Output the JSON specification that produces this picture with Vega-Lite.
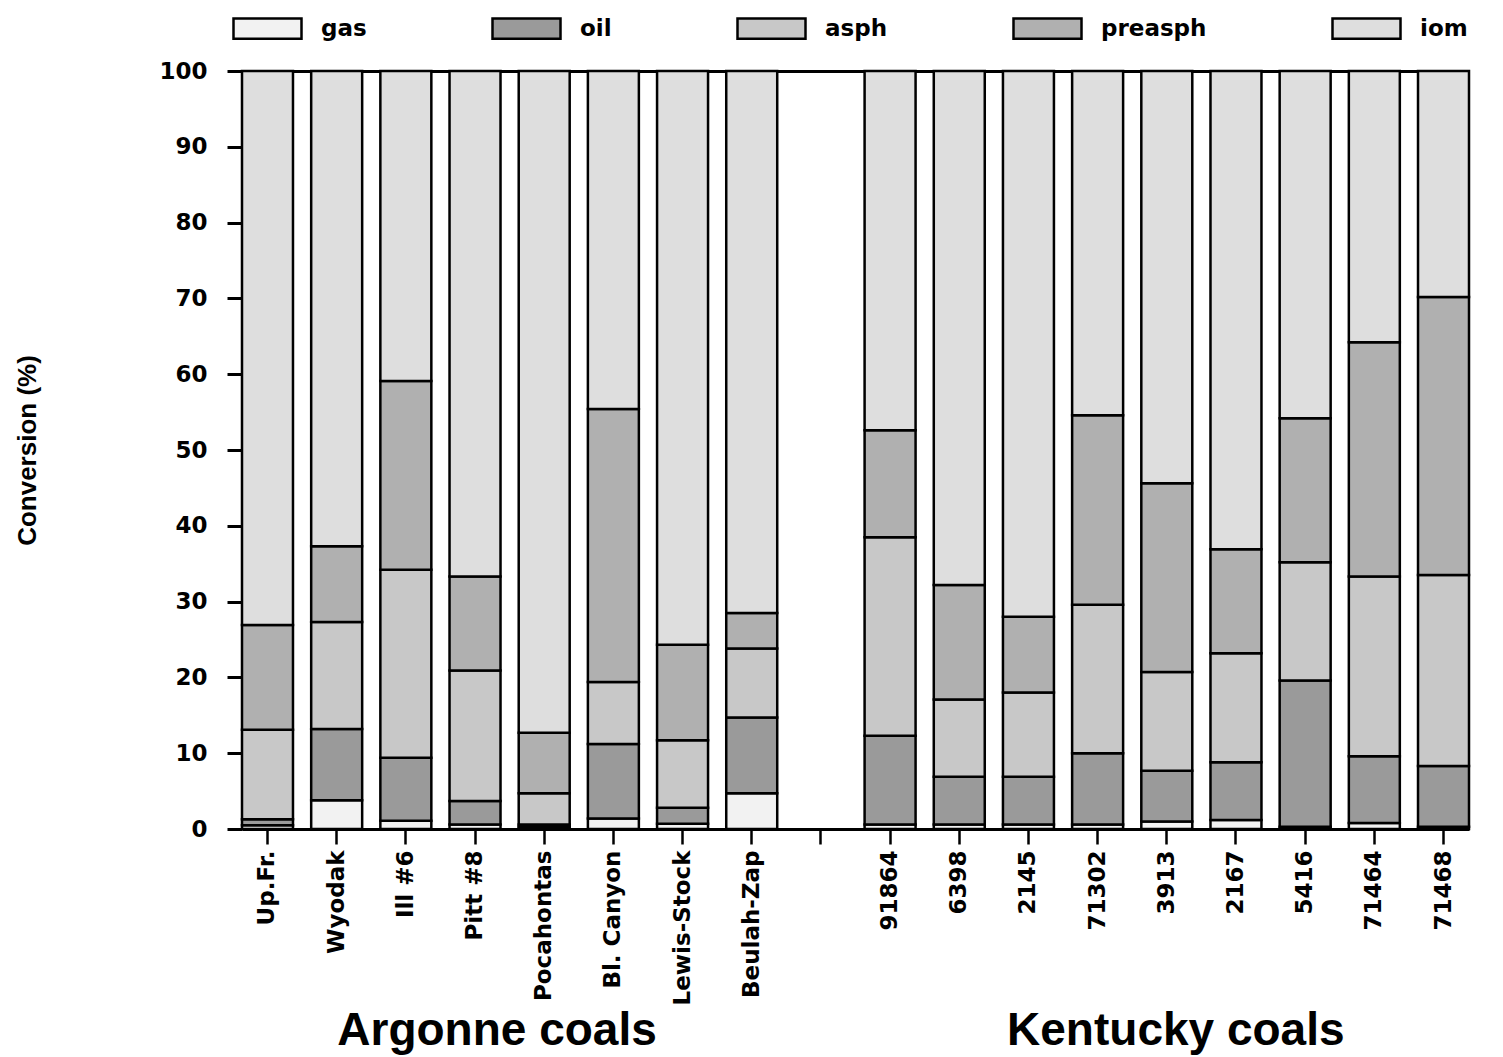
{
  "$schema": "https://vega.github.io/schema/vega-lite/v6.json",
  "width": 1227,
  "height": 758,
  "autosize": {"type": "none"},
  "padding": {"left": 242, "top": 71, "right": 34, "bottom": 228},
  "background": "white",
  "config": {"view": {"stroke": null}, "font": "DejaVu Sans"},
  "resolve": {"axis": {"x": "independent", "y": "independent"}},
  "layer": [
    {
      "data": {
        "values": [
          {"coal": "Up.Fr.", "gas": 0.5, "oil": 0.8, "asph": 11.8, "preasph": 13.8, "iom": 73.1},
          {"coal": "Wyodak", "gas": 3.8, "oil": 9.4, "asph": 14.1, "preasph": 10.0, "iom": 62.7},
          {"coal": "Ill #6", "gas": 1.1, "oil": 8.3, "asph": 24.8, "preasph": 24.9, "iom": 40.9},
          {"coal": "Pitt #8", "gas": 0.6, "oil": 3.1, "asph": 17.2, "preasph": 12.4, "iom": 66.7},
          {"coal": "Pocahontas", "gas": 0.3, "oil": 0.3, "asph": 4.1, "preasph": 8.0, "iom": 87.3},
          {"coal": "Bl. Canyon", "gas": 1.4, "oil": 9.8, "asph": 8.2, "preasph": 36.0, "iom": 44.6},
          {"coal": "Lewis-Stock", "gas": 0.7, "oil": 2.1, "asph": 8.9, "preasph": 12.6, "iom": 75.7},
          {"coal": "Beulah-Zap", "gas": 4.7, "oil": 10.0, "asph": 9.1, "preasph": 4.7, "iom": 71.5},
          {"coal": "91864", "gas": 0.6, "oil": 11.7, "asph": 26.2, "preasph": 14.1, "iom": 47.4},
          {"coal": "6398", "gas": 0.6, "oil": 6.3, "asph": 10.2, "preasph": 15.1, "iom": 67.8},
          {"coal": "2145", "gas": 0.6, "oil": 6.3, "asph": 11.1, "preasph": 10.0, "iom": 72.0},
          {"coal": "71302", "gas": 0.6, "oil": 9.4, "asph": 19.6, "preasph": 25.0, "iom": 45.4},
          {"coal": "3913", "gas": 1.0, "oil": 6.7, "asph": 13.0, "preasph": 24.9, "iom": 54.4},
          {"coal": "2167", "gas": 1.2, "oil": 7.6, "asph": 14.4, "preasph": 13.7, "iom": 63.1},
          {"coal": "5416", "gas": 0.3, "oil": 19.3, "asph": 15.6, "preasph": 19.0, "iom": 45.8},
          {"coal": "71464", "gas": 0.8, "oil": 8.8, "asph": 23.7, "preasph": 30.9, "iom": 35.8},
          {"coal": "71468", "gas": 0.3, "oil": 8.0, "asph": 25.2, "preasph": 36.7, "iom": 29.8}
        ]
      },
      "transform": [
        {"fold": ["gas", "oil", "asph", "preasph", "iom"], "as": ["component", "value"]},
        {"calculate": "indexof(['gas','oil','asph','preasph','iom'], datum.component)", "as": "stackOrder"}
      ],
      "mark": {"type": "bar", "stroke": "black", "strokeWidth": 2.5, "strokeJoin": "miter"},
      "encoding": {
        "x": {
          "field": "coal", "type": "nominal", "sort": null,
          "scale": {
            "domain": ["Up.Fr.", "Wyodak", "Ill #6", "Pitt #8", "Pocahontas", "Bl. Canyon", "Lewis-Stock", "Beulah-Zap", "gap", "91864", "6398", "2145", "71302", "3913", "2167", "5416", "71464", "71468"],
            "paddingInner": 0.263, "paddingOuter": 0
          },
          "axis": {
            "title": null, "labelAngle": -90, "labelFont": "DejaVu Sans", "labelFontWeight": "bold",
            "labelFontSize": 23, "labelColor": "black", "labelPadding": 6, "labelLimit": 300,
            "labelExpr": "datum.value == 'gap' ? '' : datum.value",
            "tickSize": 15, "tickWidth": 2.5, "tickColor": "black",
            "domainColor": "black", "domainWidth": 3
          }
        },
        "y": {
          "field": "value", "type": "quantitative", "stack": "zero",
          "scale": {"domain": [0, 100], "nice": false},
          "axis": {
            "title": "Conversion (%)", "values": [0, 10, 20, 30, 40, 50, 60, 70, 80, 90, 100],
            "grid": false, "tickSize": 15, "tickWidth": 3, "tickColor": "black",
            "domain": true, "domainColor": "black", "domainWidth": 2,
            "labelFont": "DejaVu Sans", "labelFontWeight": "bold", "labelFontSize": 23,
            "labelColor": "black", "labelPadding": 20,
            "titleFont": "Liberation Sans", "titleFontWeight": "bold", "titleFontSize": 26,
            "titleColor": "black", "titleX": -215, "titleY": 379, "titleAngle": -90,
            "titleAlign": "center", "titleBaseline": "middle"
          }
        },
        "color": {
          "field": "component", "type": "nominal",
          "scale": {
            "domain": ["gas", "oil", "asph", "preasph", "iom"],
            "range": ["#f2f2f2", "#9a9a9a", "#c8c8c8", "#b0b0b0", "#dedede"]
          },
          "legend": {
            "orient": "none", "legendX": -10, "legendY": -78, "direction": "horizontal",
            "columns": 5, "gridAlign": "each", "columnPadding": 120, "padding": 0,
            "symbolType": "M-1,-0.3H1V0.3H-1Z", "symbolSize": 4624,
            "symbolStrokeColor": "black", "symbolStrokeWidth": 2.5, "symbolOpacity": 1,
            "labelFont": "DejaVu Sans", "labelFontWeight": "bold", "labelFontSize": 23,
            "labelColor": "black", "labelOffset": 18, "labelLimit": 300, "title": null
          }
        },
        "order": {"field": "stackOrder", "type": "quantitative"}
      }
    },
    {
      "data": {"values": [{"coal": "Pitt #8", "group": "Argonne coals"}]},
      "mark": {"type": "text", "font": "Liberation Sans", "fontWeight": "bold", "fontSize": 46, "dx": 22, "dy": 216, "baseline": "alphabetic", "align": "center", "color": "black"},
      "encoding": {
        "x": {
          "field": "coal", "type": "nominal", "sort": null,
          "scale": {
            "domain": ["Up.Fr.", "Wyodak", "Ill #6", "Pitt #8", "Pocahontas", "Bl. Canyon", "Lewis-Stock", "Beulah-Zap", "gap", "91864", "6398", "2145", "71302", "3913", "2167", "5416", "71464", "71468"],
            "paddingInner": 0.263, "paddingOuter": 0
          },
          "axis": {"orient": "top", "labels": false, "ticks": false, "domain": true, "domainColor": "black", "domainWidth": 3, "title": null}
        },
        "y": {"datum": 0, "type": "quantitative", "scale": {"domain": [0, 100], "nice": false}, "axis": null},
        "text": {"field": "group"}
      }
    },
    {
      "data": {"values": [{"coal": "3913", "group": "Kentucky coals"}]},
      "mark": {"type": "text", "font": "Liberation Sans", "fontWeight": "bold", "fontSize": 46, "dx": 9, "dy": 216, "baseline": "alphabetic", "align": "center", "color": "black"},
      "encoding": {
        "x": {
          "field": "coal", "type": "nominal", "sort": null,
          "scale": {
            "domain": ["Up.Fr.", "Wyodak", "Ill #6", "Pitt #8", "Pocahontas", "Bl. Canyon", "Lewis-Stock", "Beulah-Zap", "gap", "91864", "6398", "2145", "71302", "3913", "2167", "5416", "71464", "71468"],
            "paddingInner": 0.263, "paddingOuter": 0
          },
          "axis": null
        },
        "y": {"datum": 0, "type": "quantitative", "scale": {"domain": [0, 100], "nice": false}, "axis": null},
        "text": {"field": "group"}
      }
    }
  ]
}
